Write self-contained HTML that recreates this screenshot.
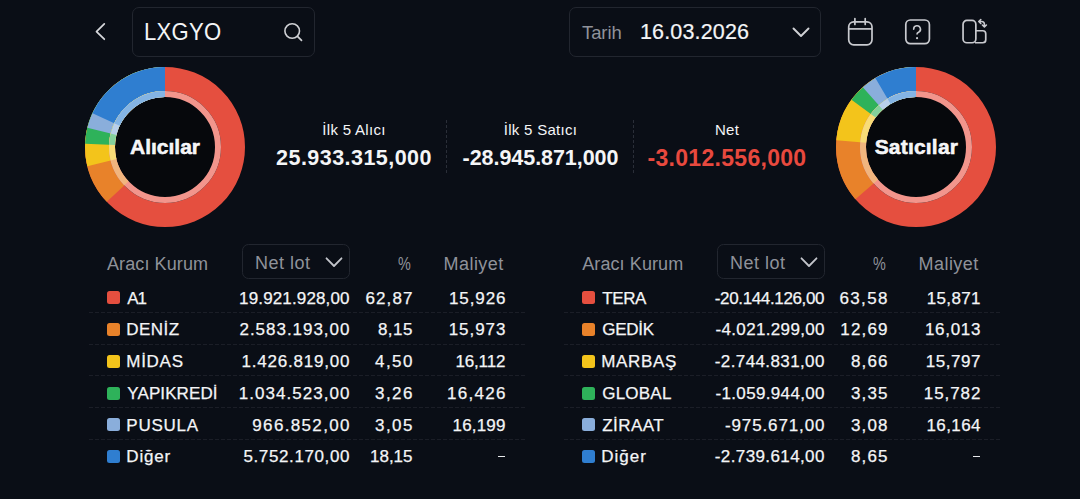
<!DOCTYPE html>
<html><head><meta charset="utf-8">
<style>
html,body{margin:0;padding:0;}
body{width:1080px;height:499px;overflow:hidden;background:#0a0e16;position:relative;font-family:"Liberation Sans",sans-serif;color:#f4f5f7;}
.a{position:absolute;white-space:nowrap;line-height:1;}
.nm{-webkit-text-stroke:0.25px currentColor;}
.box{position:absolute;border:1.8px solid #22262f;border-radius:7px;box-sizing:border-box;}
svg{position:absolute;overflow:visible;}
.g{color:#8f929a;}
.dash{position:absolute;height:1px;background:repeating-linear-gradient(90deg,#1b1e27 0 4px,transparent 4px 6px);}
.sq{position:absolute;width:13px;height:13px;border-radius:2.5px;}
.nm{font-size:17px;}
.r{text-align:right;}
.c{text-align:center;}
</style></head><body>

<!-- back chevron -->
<svg width="20" height="30" style="left:88px;top:18px" viewBox="0 0 20 30"><path d="M16.3 5.9 L8.5 13.7 L16.3 21.2" fill="none" stroke="#d6d7db" stroke-width="1.75" stroke-linecap="round" stroke-linejoin="round"/></svg>

<!-- search box -->
<div class="box" style="left:132px;top:7px;width:183px;height:50px;"></div>
<div class="a" id="t_lx" style="left:143.6px;top:19.8px;font-size:24.5px;letter-spacing:0.3px;transform:scaleX(0.9);transform-origin:0 0;">LXGYO</div>
<svg width="24" height="24" style="left:282px;top:20px" viewBox="0 0 24 24"><circle cx="10.2" cy="11" r="7.3" fill="none" stroke="#cfd0d4" stroke-width="1.6"/><path d="M15.5 16.3 L19.5 20.3" stroke="#cfd0d4" stroke-width="1.7" stroke-linecap="round"/></svg>

<!-- date box -->
<div class="box" style="left:569px;top:7px;width:252px;height:50px;"></div>
<div class="a g" id="t_tarih" style="left:582px;top:23.5px;font-size:18.5px;letter-spacing:-0.1px;">Tarih</div>
<div class="a" id="t_date" style="left:640px;top:21.7px;font-size:21.5px;letter-spacing:0.15px;-webkit-text-stroke:0.2px #f4f5f7;">16.03.2026</div>
<svg width="20" height="14" style="left:791px;top:25.8px" viewBox="0 0 20 14"><path d="M2.5 2.5 L10 10 L17.5 2.5" fill="none" stroke="#d0d1d5" stroke-width="1.9" stroke-linecap="round" stroke-linejoin="round"/></svg>

<!-- calendar icon -->
<svg width="30" height="30" style="left:845px;top:17px" viewBox="0 0 30 30"><rect x="3.7" y="4.8" width="23.3" height="23" rx="5" fill="none" stroke="#c9cacf" stroke-width="1.7"/><path d="M3.7 11.9 H27" stroke="#c9cacf" stroke-width="1.7"/><path d="M9.9 1.5 V7.5 M20.2 1.5 V7.5" stroke="#c9cacf" stroke-width="1.7" stroke-linecap="round"/></svg>
<!-- help icon -->
<svg width="30" height="30" style="left:902px;top:16px" viewBox="0 0 30 30"><rect x="3.8" y="4" width="23.6" height="23.6" rx="4.5" fill="none" stroke="#c9cacf" stroke-width="1.7"/><path d="M11.65 13.15 A3.4 3.4 0 1 1 16.6 16.2 Q15.05 16.9 15.05 17.9" fill="none" stroke="#c9cacf" stroke-width="1.6" stroke-linecap="round"/><circle cx="15.05" cy="22.2" r="1.1" fill="#c9cacf"/></svg>
<!-- rotate icon -->
<svg width="30" height="30" style="left:959px;top:16px" viewBox="0 0 30 30"><rect x="4.05" y="4.45" width="12.8" height="22.3" rx="3.8" fill="none" stroke="#c9cacf" stroke-width="1.7"/><path d="M16.85 14.75 H23.75 A3 3 0 0 1 26.75 17.75 V23.75 A3 3 0 0 1 23.75 26.75 H16" fill="none" stroke="#c9cacf" stroke-width="1.7"/><path d="M21.8 3.5 L19.8 5.5 L21.8 7.5 M20.2 5.5 H22.6 A2.8 2.8 0 0 1 25.4 8.3 V10.6 M23.4 9 L25.4 11 L27.4 9" fill="none" stroke="#c9cacf" stroke-width="1.6" stroke-linecap="round" stroke-linejoin="round"/></svg>

<!-- left donut -->
<svg width="170" height="170" style="left:80px;top:62px" viewBox="0 0 170 170">
<circle cx="85" cy="85" r="50" fill="#06080c"/>
<g transform="rotate(-90 85 85)" fill="none">
<circle cx="85" cy="85" r="68" stroke="#e54f3f" stroke-width="24" stroke-dasharray="427.26 1000" stroke-dashoffset="-0.00"/>
<circle cx="85" cy="85" r="68" stroke="#e8822a" stroke-width="24" stroke-dasharray="158.64 1000" stroke-dashoffset="-268.62"/>
<circle cx="85" cy="85" r="68" stroke="#f3c41b" stroke-width="24" stroke-dasharray="123.82 1000" stroke-dashoffset="-303.44"/>
<circle cx="85" cy="85" r="68" stroke="#2eb25a" stroke-width="24" stroke-dasharray="104.59 1000" stroke-dashoffset="-322.66"/>
<circle cx="85" cy="85" r="68" stroke="#8aaedb" stroke-width="24" stroke-dasharray="90.66 1000" stroke-dashoffset="-336.59"/>
<circle cx="85" cy="85" r="68" stroke="#2f7ed0" stroke-width="24" stroke-dasharray="77.63 1000" stroke-dashoffset="-349.62"/>
<circle cx="85" cy="85" r="53" stroke="#f2958c" stroke-width="6" stroke-dasharray="333.01 1000" stroke-dashoffset="-0.00"/>
<circle cx="85" cy="85" r="53" stroke="#f1b57e" stroke-width="6" stroke-dasharray="123.65 1000" stroke-dashoffset="-209.36"/>
<circle cx="85" cy="85" r="53" stroke="#f8dc77" stroke-width="6" stroke-dasharray="96.51 1000" stroke-dashoffset="-236.50"/>
<circle cx="85" cy="85" r="53" stroke="#84d19c" stroke-width="6" stroke-dasharray="81.52 1000" stroke-dashoffset="-251.49"/>
<circle cx="85" cy="85" r="53" stroke="#b9cfea" stroke-width="6" stroke-dasharray="70.66 1000" stroke-dashoffset="-262.34"/>
<circle cx="85" cy="85" r="53" stroke="#84b4e4" stroke-width="6" stroke-dasharray="60.51 1000" stroke-dashoffset="-272.50"/>
</g></svg>
<div class="a c" id="t_alici" style="left:115px;width:100px;top:135.5px;font-size:21px;font-weight:bold;-webkit-text-stroke:0.5px #fff;">Alıcılar</div>

<!-- right donut -->
<svg width="170" height="170" style="left:831.4px;top:62px" viewBox="0 0 170 170">
<circle cx="85" cy="85" r="50" fill="#06080c"/>
<g transform="rotate(-90 85 85)" fill="none">
<circle cx="85" cy="85" r="68" stroke="#e54f3f" stroke-width="24" stroke-dasharray="427.26 1000" stroke-dashoffset="-0.00"/>
<circle cx="85" cy="85" r="68" stroke="#e8822a" stroke-width="24" stroke-dasharray="155.61 1000" stroke-dashoffset="-271.65"/>
<circle cx="85" cy="85" r="68" stroke="#f3c41b" stroke-width="24" stroke-dasharray="101.39 1000" stroke-dashoffset="-325.87"/>
<circle cx="85" cy="85" r="68" stroke="#2eb25a" stroke-width="24" stroke-dasharray="64.39 1000" stroke-dashoffset="-362.87"/>
<circle cx="85" cy="85" r="68" stroke="#8aaedb" stroke-width="24" stroke-dasharray="50.07 1000" stroke-dashoffset="-377.18"/>
<circle cx="85" cy="85" r="68" stroke="#2f7ed0" stroke-width="24" stroke-dasharray="36.91 1000" stroke-dashoffset="-390.34"/>
<circle cx="85" cy="85" r="53" stroke="#f2958c" stroke-width="6" stroke-dasharray="333.01 1000" stroke-dashoffset="-0.00"/>
<circle cx="85" cy="85" r="53" stroke="#f1b57e" stroke-width="6" stroke-dasharray="121.28 1000" stroke-dashoffset="-211.73"/>
<circle cx="85" cy="85" r="53" stroke="#f8dc77" stroke-width="6" stroke-dasharray="79.02 1000" stroke-dashoffset="-253.99"/>
<circle cx="85" cy="85" r="53" stroke="#84d19c" stroke-width="6" stroke-dasharray="50.18 1000" stroke-dashoffset="-282.82"/>
<circle cx="85" cy="85" r="53" stroke="#b9cfea" stroke-width="6" stroke-dasharray="39.03 1000" stroke-dashoffset="-293.98"/>
<circle cx="85" cy="85" r="53" stroke="#84b4e4" stroke-width="6" stroke-dasharray="28.77 1000" stroke-dashoffset="-304.24"/>
</g></svg>
<div class="a c" id="t_satici" style="left:866.4px;width:100px;top:135.5px;font-size:21px;font-weight:bold;letter-spacing:0.2px;-webkit-text-stroke:0.5px #fff;">Satıcılar</div>

<!-- summary -->
<div class="a c" id="t_l1" style="left:260px;width:188px;top:122.2px;font-size:15px;letter-spacing:0.3px;">İlk 5 Alıcı</div>
<div class="a c" id="t_v1" style="left:260px;width:188px;top:148.3px;font-size:21.5px;font-weight:bold;letter-spacing:0.46px;">25.933.315,000</div>
<div style="position:absolute;left:446px;top:120px;width:1px;height:55px;background:repeating-linear-gradient(180deg,#2a2e38 0 3px,transparent 3px 5px);"></div>
<div class="a c" id="t_l2" style="left:446.5px;width:188px;top:122.2px;font-size:15px;letter-spacing:0.3px;">İlk 5 Satıcı</div>
<div class="a c" id="t_v2" style="left:446.5px;width:188px;top:148.3px;font-size:21.5px;font-weight:bold;letter-spacing:-0.05px;">-28.945.871,000</div>
<div style="position:absolute;left:632.5px;top:120px;width:1px;height:55px;background:repeating-linear-gradient(180deg,#2a2e38 0 3px,transparent 3px 5px);"></div>
<div class="a c" id="t_l3" style="left:633px;width:188px;top:122.2px;font-size:15px;letter-spacing:0.3px;">Net</div>
<div class="a c" id="t_v3" style="left:633px;width:188px;top:147.1px;font-size:23px;font-weight:bold;letter-spacing:0.3px;color:#e8493e;">-3.012.556,000</div>


<!-- table headers -->
<div class="a g" style="left:107px;top:254.8px;font-size:18px;letter-spacing:0.1px;">Aracı Kurum</div>
<div class="box" style="left:241.5px;top:243.6px;width:108.5px;height:35px;border-radius:6.5px;border-width:1.8px;"></div>
<div class="a g" style="left:255px;top:253.6px;font-size:18px;letter-spacing:0.5px;">Net lot</div>
<svg width="20" height="12" style="left:323.5px;top:255.5px" viewBox="0 0 20 12"><path d="M2.5 2.3 L10 10 L17.5 2.3" fill="none" stroke="#c3c5cb" stroke-width="1.8" stroke-linecap="round" stroke-linejoin="round"/></svg>
<div class="a g" style="left:397.8px;top:254.7px;font-size:18px;transform:scaleX(0.8);transform-origin:0 0;">%</div>
<div class="a g" style="left:443.6px;top:254.7px;font-size:18px;letter-spacing:0.43px;">Maliyet</div>

<div class="a g" style="left:582.2px;top:254.8px;font-size:18px;letter-spacing:0.1px;">Aracı Kurum</div>
<div class="box" style="left:716.5px;top:243.6px;width:108.5px;height:35px;border-radius:6.5px;border-width:1.8px;"></div>
<div class="a g" style="left:730px;top:253.6px;font-size:18px;letter-spacing:0.5px;">Net lot</div>
<svg width="20" height="12" style="left:798.5px;top:255.5px" viewBox="0 0 20 12"><path d="M2.5 2.3 L10 10 L17.5 2.3" fill="none" stroke="#c3c5cb" stroke-width="1.8" stroke-linecap="round" stroke-linejoin="round"/></svg>
<div class="a g" style="left:872.8px;top:254.7px;font-size:18px;transform:scaleX(0.8);transform-origin:0 0;">%</div>
<div class="a g" style="left:918.6px;top:254.7px;font-size:18px;letter-spacing:0.43px;">Maliyet</div>

<!-- TABLE START -->
<div class="sq" style="left:106.5px;top:291.2px;background:#e54f3f"></div>
<div class="a nm" style="left:127.3px;top:289.7px;letter-spacing:-1.04px">A1</div>
<div class="a nm" style="left:239.1px;top:289.7px;letter-spacing:0.14px">19.921.928,00</div>
<div class="a nm" style="left:365.4px;top:289.7px;letter-spacing:1.13px">62,87</div>
<div class="a nm" style="left:449.0px;top:289.7px;letter-spacing:0.89px">15,926</div>
<div class="sq" style="left:106.5px;top:323.0px;background:#e8822a"></div>
<div class="a nm" style="left:126.3px;top:321.4px;letter-spacing:0.45px">DENİZ</div>
<div class="a nm" style="left:239.5px;top:321.4px;letter-spacing:0.97px">2.583.193,00</div>
<div class="a nm" style="left:377.9px;top:321.4px;letter-spacing:0.49px">8,15</div>
<div class="a nm" style="left:448.7px;top:321.4px;letter-spacing:0.95px">15,973</div>
<div class="sq" style="left:106.5px;top:354.7px;background:#f3c41b"></div>
<div class="a nm" style="left:126.3px;top:353.2px;letter-spacing:0.72px">MİDAS</div>
<div class="a nm" style="left:241.6px;top:353.2px;letter-spacing:0.78px">1.426.819,00</div>
<div class="a nm" style="left:375.0px;top:353.2px;letter-spacing:1.46px">4,50</div>
<div class="a nm" style="left:455.4px;top:353.2px;letter-spacing:-0.14px">16,112</div>
<div class="sq" style="left:106.5px;top:386.5px;background:#2eb25a"></div>
<div class="a nm" style="left:127.3px;top:384.9px;letter-spacing:0.10px">YAPIKREDİ</div>
<div class="a nm" style="left:238.8px;top:384.9px;letter-spacing:1.04px">1.034.523,00</div>
<div class="a nm" style="left:375.0px;top:384.9px;letter-spacing:1.46px">3,26</div>
<div class="a nm" style="left:447.0px;top:384.9px;letter-spacing:1.29px">16,426</div>
<div class="sq" style="left:106.5px;top:418.2px;background:#8aaedb"></div>
<div class="a nm" style="left:126.3px;top:416.7px;letter-spacing:0.74px">PUSULA</div>
<div class="a nm" style="left:252.3px;top:416.7px;letter-spacing:1.34px">966.852,00</div>
<div class="a nm" style="left:375.0px;top:416.7px;letter-spacing:1.46px">3,05</div>
<div class="a nm" style="left:452.6px;top:416.7px;letter-spacing:0.17px">16,199</div>
<div class="sq" style="left:106.5px;top:450.0px;background:#2f7ed0"></div>
<div class="a nm" style="left:126.3px;top:448.4px;letter-spacing:0.83px">Diğer</div>
<div class="a nm" style="left:243.4px;top:448.4px;letter-spacing:0.62px">5.752.170,00</div>
<div class="a nm" style="left:370.1px;top:448.4px;letter-spacing:-0.05px">18,15</div>
<div style="position:absolute;left:498.0px;top:455.7px;width:7.0px;height:1.7px;background:#e8e9ec"></div>
<div class="dash" style="left:88.5px;top:312.2px;width:437px"></div>
<div class="dash" style="left:88.5px;top:343.8px;width:437px"></div>
<div class="dash" style="left:88.5px;top:375.4px;width:437px"></div>
<div class="dash" style="left:88.5px;top:407.0px;width:437px"></div>
<div class="dash" style="left:88.5px;top:438.6px;width:437px"></div>
<div class="sq" style="left:581.5px;top:291.2px;background:#e54f3f"></div>
<div class="a nm" style="left:602.3px;top:289.7px;letter-spacing:-0.43px">TERA</div>
<div class="a nm" style="left:714.8px;top:289.7px;letter-spacing:-0.36px">-20.144.126,00</div>
<div class="a nm" style="left:839.5px;top:289.7px;letter-spacing:1.35px">63,58</div>
<div class="a nm" style="left:926.8px;top:289.7px;letter-spacing:0.33px">15,871</div>
<div class="sq" style="left:581.5px;top:323.0px;background:#e8822a"></div>
<div class="a nm" style="left:602.3px;top:321.4px;letter-spacing:-0.29px">GEDİK</div>
<div class="a nm" style="left:715.5px;top:321.4px;letter-spacing:0.34px">-4.021.299,00</div>
<div class="a nm" style="left:840.3px;top:321.4px;letter-spacing:1.15px">12,69</div>
<div class="a nm" style="left:924.9px;top:321.4px;letter-spacing:0.71px">16,013</div>
<div class="sq" style="left:581.5px;top:354.7px;background:#f3c41b"></div>
<div class="a nm" style="left:601.3px;top:353.2px;letter-spacing:0.65px">MARBAŞ</div>
<div class="a nm" style="left:714.8px;top:353.2px;letter-spacing:0.39px">-2.744.831,00</div>
<div class="a nm" style="left:850.9px;top:353.2px;letter-spacing:1.16px">8,66</div>
<div class="a nm" style="left:925.7px;top:353.2px;letter-spacing:0.55px">15,797</div>
<div class="sq" style="left:581.5px;top:386.5px;background:#2eb25a"></div>
<div class="a nm" style="left:602.3px;top:384.9px;letter-spacing:0.20px">GLOBAL</div>
<div class="a nm" style="left:715.5px;top:384.9px;letter-spacing:0.34px">-1.059.944,00</div>
<div class="a nm" style="left:850.9px;top:384.9px;letter-spacing:1.16px">3,35</div>
<div class="a nm" style="left:923.8px;top:384.9px;letter-spacing:0.93px">15,782</div>
<div class="sq" style="left:581.5px;top:418.2px;background:#8aaedb"></div>
<div class="a nm" style="left:602.3px;top:416.7px;letter-spacing:0.42px">ZİRAAT</div>
<div class="a nm" style="left:725.0px;top:416.7px;letter-spacing:0.87px">-975.671,00</div>
<div class="a nm" style="left:850.9px;top:416.7px;letter-spacing:1.16px">3,08</div>
<div class="a nm" style="left:926.5px;top:416.7px;letter-spacing:0.39px">16,164</div>
<div class="sq" style="left:581.5px;top:450.0px;background:#2f7ed0"></div>
<div class="a nm" style="left:601.3px;top:448.4px;letter-spacing:0.98px">Diğer</div>
<div class="a nm" style="left:714.8px;top:448.4px;letter-spacing:0.39px">-2.739.614,00</div>
<div class="a nm" style="left:850.9px;top:448.4px;letter-spacing:1.16px">8,65</div>
<div style="position:absolute;left:973.3px;top:455.7px;width:6.7px;height:1.7px;background:#e8e9ec"></div>
<div class="dash" style="left:563.5px;top:312.2px;width:437px"></div>
<div class="dash" style="left:563.5px;top:343.8px;width:437px"></div>
<div class="dash" style="left:563.5px;top:375.4px;width:437px"></div>
<div class="dash" style="left:563.5px;top:407.0px;width:437px"></div>
<div class="dash" style="left:563.5px;top:438.6px;width:437px"></div>
<!-- TABLE END -->

</body></html>
